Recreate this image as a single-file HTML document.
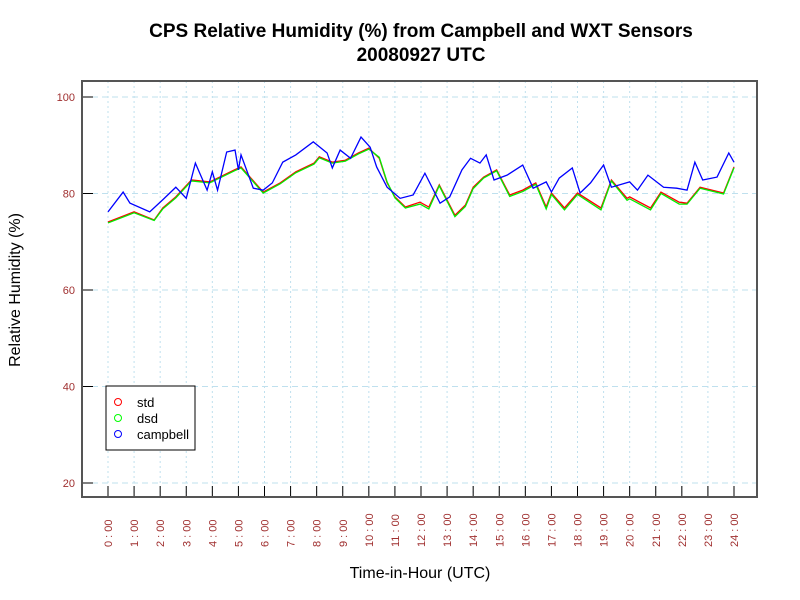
<!DOCTYPE html>
<html><head><meta charset="utf-8"><style>
body{margin:0;background:#fff;}
svg{display:block;font-family:"Liberation Sans",sans-serif;}
</style></head><body>
<svg id="chart" width="800" height="600">
<rect width="800" height="600" fill="#fff"/>
<text x="421" y="37" text-anchor="middle" font-size="19" font-weight="bold">CPS Relative Humidity (%) from Campbell and WXT Sensors</text>
<text x="421" y="61" text-anchor="middle" font-size="19" font-weight="bold">20080927  UTC</text>
<g id="grid"></g><g id="series"></g><g id="axes"></g>
<rect x="82" y="81" width="675" height="416" fill="none" stroke="#555" stroke-width="2"/>
<text x="420" y="578" text-anchor="middle" font-size="16">Time-in-Hour (UTC)</text>
<text transform="translate(20,290) rotate(-90)" text-anchor="middle" font-size="16">Relative Humidity (%)</text>
<g>
<rect x="106" y="386" width="89" height="64" fill="#fff" stroke="#000" stroke-width="1"/>
<circle cx="118" cy="402" r="3.5" fill="none" stroke="#f00"/>
<text x="137" y="407" font-size="13">std</text>
<circle cx="118" cy="418" r="3.5" fill="none" stroke="#0f0"/>
<text x="137" y="423" font-size="13">dsd</text>
<circle cx="118" cy="434" r="3.5" fill="none" stroke="#00f"/>
<text x="137" y="439" font-size="13">campbell</text>
</g>
</svg>
<script>
const yTicks=[20,40,60,80,100];
const xHours=[0,1,2,3,4,5,6,7,8,9,10,11,12,13,14,15,16,17,18,19,20,21,22,23,24];
const campHours=[0,0.58,0.84,1.6,2.1,2.6,3.0,3.35,3.8,4.0,4.2,4.55,4.87,5.0,5.1,5.57,5.95,6.3,6.7,7.2,7.87,8.4,8.6,8.9,9.3,9.7,10.05,10.3,10.7,11.2,11.7,12.15,12.73,13.1,13.57,13.9,14.26,14.5,14.8,15.3,15.9,16.3,16.8,17.0,17.3,17.8,18.1,18.5,19.0,19.3,20.0,20.3,20.7,21.3,21.8,22.2,22.5,22.8,23.35,23.8,24.0];
const campValues=[76.2,80.3,78,76.2,78.7,81.3,79,86.3,80.7,84.5,80.7,88.6,89,84.9,88,81.1,80.7,82.2,86.5,88,90.7,88.4,85.3,89,87.3,91.7,89.6,85.5,81.3,79,79.7,84.2,78,79.3,84.9,87.3,86.3,88,82.8,83.8,85.9,81.1,82.4,80.3,83.2,85.3,80.1,82.2,85.9,81.3,82.4,80.7,83.8,81.3,81.1,80.7,86.5,82.8,83.4,88.4,86.5];
const stdHours=[0,1.0,1.77,2.1,2.6,3.2,3.9,4.85,5.1,5.95,6.6,7.2,7.9,8.1,8.6,9.1,9.6,10.0,10.4,10.7,11.0,11.4,11.96,12.3,12.7,13.3,13.7,14.0,14.4,14.9,15.4,15.9,16.4,16.8,17.0,17.5,18.0,18.9,19.3,19.9,20.0,20.8,21.2,21.9,22.2,22.7,23.6,24.0];
const stdValues=[74.1,76.2,74.5,77,79.3,82.8,82.4,84.9,85.5,80.3,82.2,84.5,86.3,87.6,86.5,86.9,88.4,89.4,87.3,82.2,79.3,77.2,78.2,77.2,81.8,75.5,77.6,81.3,83.4,84.9,79.7,80.7,82.2,77.2,80.1,77,80.1,77,82.8,79,79.3,77,80.3,78.2,78,81.3,80.1,85.5];
const dsdValues=[73.9,76.0,74.4,76.8,79.1,82.6,82.2,84.7,85.3,80.1,82.0,84.3,86.1,87.4,86.3,86.7,88.2,89.2,87.5,82.4,79.1,77.0,77.8,76.8,81.6,75.2,77.3,81.0,83.2,84.7,79.4,80.4,81.9,76.8,79.8,76.6,79.8,76.6,82.6,78.6,78.9,76.6,80.0,77.8,77.8,81.1,79.9,85.3];
const NS='http://www.w3.org/2000/svg';
function xs(h){return 108+h*(734-108)/24;}
function ys(v){return 97+(100-v)*(483-97)/80;}
function mk(tag,attrs,parent){const e=document.createElementNS(NS,tag);for(const k in attrs)e.setAttribute(k,attrs[k]);parent.appendChild(e);return e;}
const grid=document.getElementById('grid'),axes=document.getElementById('axes'),series=document.getElementById('series');
yTicks.forEach(v=>{
  const g=mk('line',{x1:82,x2:757,y1:ys(v),y2:ys(v),stroke:'#bfe0ee','stroke-dasharray':'6,4'},grid);
  
  
  const t=mk('line',{x1:82,x2:93,y1:ys(v),y2:ys(v),stroke:'#000'},axes);
  
  
  const l=mk('text',{x:75,y:ys(v)+4,'text-anchor':'end','font-size':11,fill:'#a03030'},axes);
  l.textContent=v;
  
  
});
xHours.forEach(h=>{
  const g=mk('line',{x1:xs(h),x2:xs(h),y1:81,y2:497,stroke:'#bfe0ee','stroke-dasharray':'2,3'},grid);
  
  
  const t=mk('line',{x1:xs(h),x2:xs(h),y1:486,y2:497,stroke:'#000'},axes);
  
  
  const l=mk('text',{transform:'translate('+(xs(h)+4)+',547) rotate(-90)','font-size':11,fill:'#a03030'},axes);
  l.textContent=h+' : 00';
  
  
});
function line(hs,vs,color,name){
  const p=mk('polyline',{points:hs.map((h,i)=>xs(h)+','+ys(vs[i])).join(' '),fill:'none',stroke:color,'stroke-width':1.3},series);
  
  
}
line(stdHours,stdValues,'#f00','std-line');
line(stdHours,dsdValues,'#0e0','dsd-line');
line(campHours,campValues,'#00f','campbell-line');
</script>
</body></html>
